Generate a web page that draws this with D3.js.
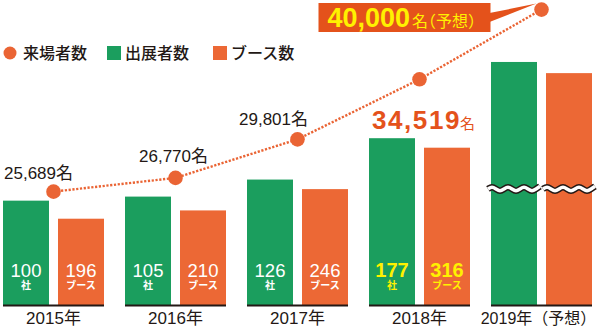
<!DOCTYPE html>
<html>
<head>
<meta charset="utf-8">
<script src="https://cdn.jsdelivr.net/npm/d3@7"></script>
<style>
  html, body { margin: 0; padding: 0; background: #fff; }
  svg { display: block; }
  text { font-family: "Liberation Sans", Arial, "Noto Sans CJK JP", sans-serif; }
</style>
</head>
<body>
<svg id="chart" width="600" height="327"></svg>
<script>
// ---- data ----
const years = ['2015年', '2016年', '2017年', '2018年', '2019年（予想）'];
const visitors = [25689, 26770, 29801, 34519, 40000];   // 来場者数（名）
const exhibitors = [100, 105, 126, 177, 271];           // 出展者数（社）; 2019 is an unlabeled projection
const booths = [196, 210, 246, 316, 442];               // ブース数; 2019 is an unlabeled projection
const projected = [false, false, false, false, true];   // projected year: drawn with break marks, no labels
const legendLabels = ['来場者数', '出展者数', 'ブース数'];
const unitExhibitor = '社';
const unitBooth = 'ブース';
const unitVisitor = '名';
const projectedNote = '（予想）';

// ---- styles ----
const GREEN = '#1b9e5e';
const ORANGE = '#ec6835';
const DOT = '#ea6434';
const CALLOUT = '#e4521b';
const YELLOW = '#fff100';
const INK = '#231815';
const BASE = 305;

const svg = d3.select('#chart');

// ---- scales ----
const x = d3.scaleBand().domain(years).range([3, 592]).paddingInner(21 / 122).paddingOuter(0);
const xSub = d3.scaleBand().domain(['ex', 'bo']).range([0, x.bandwidth()]).paddingInner(9 / 55).paddingOuter(0);
const yEx = d3.scaleLinear().domain([0, 300]).range([BASE - 23.25, BASE - 23.25 - 243.3]);
const yBo = d3.scaleLinear().domain([0, 500]).range([BASE + 29.7, BASE + 29.7 - 295.9]);
const yVis = d3.scaleLinear().domain([25000, 40000]).range([200.4, 9.6]);

const rows = years.map((y, i) => ({
  year: y, i, vis: visitors[i], ex: exhibitors[i], bo: booths[i], proj: projected[i]
}));
const lastActual = d3.max(rows.filter(r => !r.proj), r => r.i);

// ---- legend ----
const lg = svg.append('g').attr('class', 'legend');
lg.append('circle').attr('cx', 10).attr('cy', 53).attr('r', 6.5).attr('fill', DOT);
lg.append('rect').attr('x', 107).attr('y', 46).attr('width', 14).attr('height', 14).attr('fill', GREEN);
lg.append('rect').attr('x', 213).attr('y', 46).attr('width', 14).attr('height', 14).attr('fill', ORANGE);
[[23, legendLabels[0]], [125, legendLabels[1]], [231, legendLabels[2]]].forEach(([lx, t]) => {
  lg.append('text').attr('x', lx).attr('y', 59).text(t)
    .attr('font-family', '"Noto Sans CJK JP", sans-serif')
    .attr('font-size', 16).attr('font-weight', 500).attr('fill', INK);
});

// ---- bars ----
const groups = svg.append('g').selectAll('g.grp').data(rows).join('g')
  .attr('class', 'grp').attr('transform', d => `translate(${x(d.year)},0)`);

groups.append('rect')
  .attr('x', xSub('ex')).attr('width', xSub.bandwidth())
  .attr('y', d => yEx(d.ex)).attr('height', d => BASE - yEx(d.ex))
  .attr('fill', GREEN);
groups.append('rect')
  .attr('x', xSub('bo')).attr('width', xSub.bandwidth())
  .attr('y', d => yBo(d.bo)).attr('height', d => BASE - yBo(d.bo))
  .attr('fill', ORANGE);

// baseline under each pair of bars
groups.append('line')
  .attr('x1', 0).attr('x2', x.bandwidth())
  .attr('y1', BASE + 0.5).attr('y2', BASE + 0.5)
  .attr('stroke', INK).attr('stroke-width', 2);

// value labels inside bars
const labelled = groups.filter(d => !d.proj);
function barLabel(sel, key, value, unit) {
  const cx = xSub(key) + xSub.bandwidth() / 2;
  sel.append('text')
    .attr('x', cx).attr('y', BASE - 28).attr('text-anchor', 'middle')
    .attr('font-size', d => d.i === lastActual ? 20 : 18.5)
    .attr('font-weight', d => d.i === lastActual ? 'bold' : 'normal')
    .attr('fill', d => d.i === lastActual ? YELLOW : '#fff')
    .text(value);
  sel.append('text')
    .attr('x', cx).attr('y', BASE - 16).attr('text-anchor', 'middle')
    .attr('font-family', '"Noto Sans CJK JP", sans-serif')
    .attr('font-size', 10).attr('font-weight', 'bold')
    .attr('fill', d => d.i === lastActual ? YELLOW : '#fff')
    .text(unit);
}
barLabel(labelled, 'ex', d => d.ex, unitExhibitor);
barLabel(labelled, 'bo', d => d.bo, unitBooth);

// break marks on projected bars
const breakY = 189;
const wave = d3.line().curve(d3.curveBasis);
function wavePts(x0, x1) {
  const pts = [];
  const period = 16, amp = 2.6;
  for (let px = x0; px <= x1 + 0.01; px += period / 4) {
    const k = Math.round((px - x0) / (period / 4)) % 4;
    const dy = [0, -amp, 0, amp][k];
    pts.push([px, breakY + dy]);
  }
  return pts;
}
groups.filter(d => d.proj).each(function () {
  const g = d3.select(this);
  ['ex', 'bo'].forEach(key => {
    const p = wavePts(xSub(key) - 3, xSub(key) + xSub.bandwidth() + 3);
    g.append('path').attr('d', wave(p)).attr('fill', 'none')
      .attr('stroke', INK).attr('stroke-width', 6.5);
    g.append('path').attr('d', wave(p)).attr('fill', 'none')
      .attr('stroke', '#fff').attr('stroke-width', 3.5);
  });
});

// ---- x axis ----
const axis = svg.append('g').attr('transform', `translate(0,${BASE + 6})`)
  .call(d3.axisBottom(x).tickSize(0).tickPadding(0));
axis.select('.domain').remove();
axis.selectAll('text')
  .attr('dy', null).attr('y', 13)
  .attr('font-family', '"Liberation Sans", Arial, "Noto Sans CJK JP", sans-serif')
  .attr('font-size', d => d.length > 6 ? 16 : 17)
  .attr('dx', d => d.length > 6 ? -3 : 0)
  .attr('fill', INK);

// ---- visitors line ----
const pts = rows.map(d => ({ ...d, cx: x(d.year) + x.bandwidth() / 2, cy: yVis(d.vis) }));
svg.append('path')
  .attr('d', d3.line().x(d => d.cx).y(d => d.cy)(pts))
  .attr('fill', 'none').attr('stroke', DOT).attr('stroke-width', 2.4)
  .attr('stroke-dasharray', '2.2,1.6');
svg.append('g').selectAll('circle').data(pts).join('circle')
  .attr('cx', d => d.cx).attr('cy', d => d.cy).attr('r', 7.3).attr('fill', DOT);

const fmt = d3.format(',');
// label offsets relative to each point
const visOffsets = [[-15, -13], [-2, -16], [-24, -14], [4, 50]];
pts.filter(d => !d.proj).forEach(d => {
  const [dx, dy] = visOffsets[d.i];
  const t = svg.append('text').attr('x', d.cx + dx).attr('y', d.cy + dy).attr('text-anchor', 'middle');
  if (d.i === lastActual) {
    t.append('tspan').text(fmt(d.vis)).attr('font-size', 26).attr('font-weight', 'bold')
      .attr('letter-spacing', 1.6).attr('fill', CALLOUT);
    t.append('tspan').text(unitVisitor).attr('font-size', 15).attr('dx', -1).attr('fill', CALLOUT)
      .attr('font-family', '"Noto Sans CJK JP", sans-serif');
  } else {
    t.attr('font-size', 17).attr('fill', INK).text(fmt(d.vis) + unitVisitor);
  }
});

// callout for the projected visitors
pts.filter(d => d.proj).forEach(d => {
  const bx1 = d.cx - 51, bx0 = bx1 - 172, by0 = 3, by1 = 32;
  const g = svg.append('g');
  g.append('path')
    .attr('d', `M${bx1 - 1},${by0 + 10}L${d.cx - 5},${d.cy - 6}L${bx1 - 1},${by0 + 19}Z`)
    .attr('fill', CALLOUT);
  g.append('rect').attr('x', bx0).attr('y', by0).attr('width', bx1 - bx0).attr('height', by1 - by0)
    .attr('fill', CALLOUT);
  const t = g.append('text').attr('x', bx0 + 9).attr('y', by1 - 5).attr('fill', YELLOW);
  t.append('tspan').text(fmt(d.vis)).attr('font-size', 27).attr('font-weight', 'bold');
  t.append('tspan').text(unitVisitor + projectedNote).attr('font-size', 16).attr('dx', 2)
    .attr('font-family', '"Noto Sans CJK JP", sans-serif')
    .style('font-feature-settings', '"halt"');
});
</script>
</body>
</html>
